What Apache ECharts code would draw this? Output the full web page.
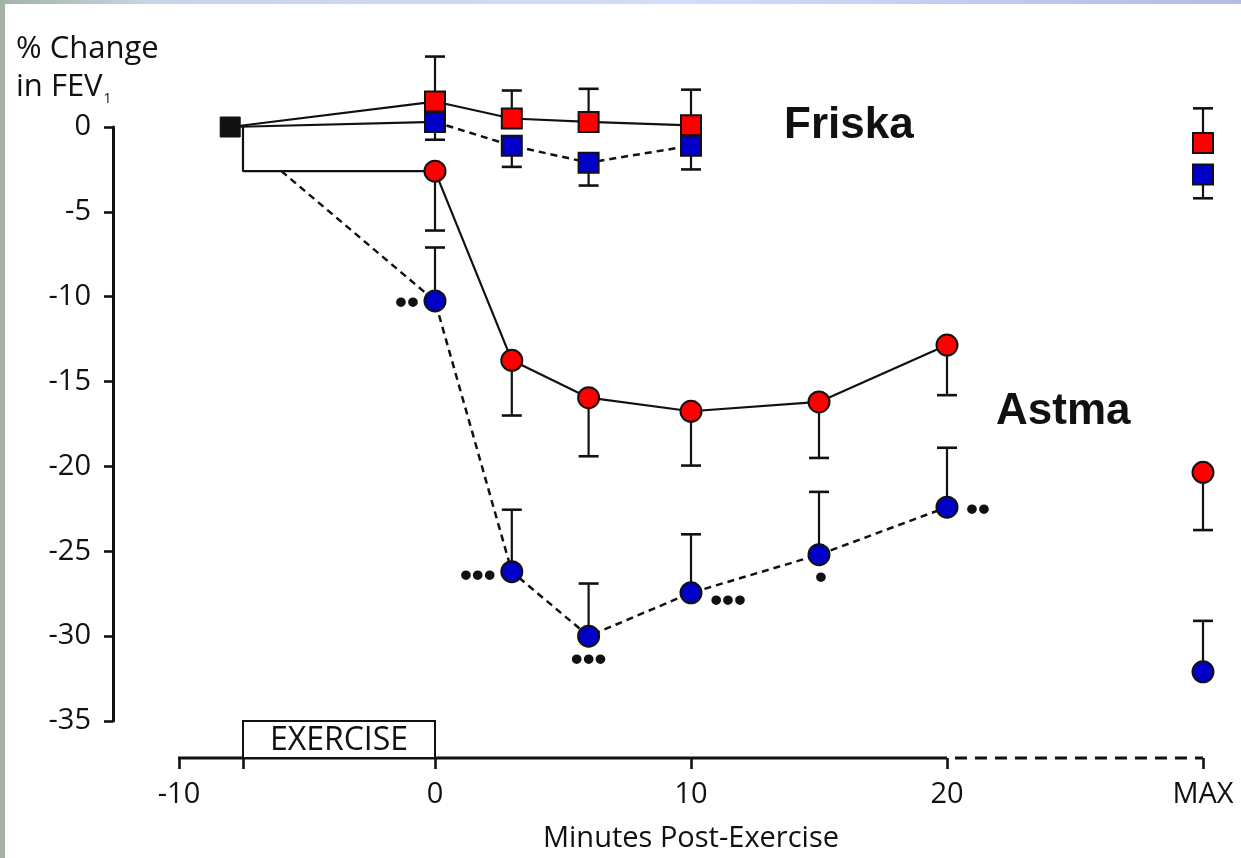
<!DOCTYPE html>
<html>
<head>
<meta charset="utf-8">
<script src="https://cdn.jsdelivr.net/npm/echarts@6/dist/echarts.min.js"></script>
<style>
  html, body { margin: 0; padding: 0; background: #ffffff; }
  #chart { width: 1241px; height: 858px; }
</style>
</head>
<body>
<div id="chart"></div>
<script>
// ---- values (% change in FEV1) ----
const minutes = [0, 3, 6, 10, 15, 20];          // minutes post-exercise (asthma)
const friskaMinutes = [0, 3, 6, 10];            // minutes post-exercise (healthy)
const MAX_POS = 30;                             // x position of the MAX column
const baselinePoint = [-8, 0];                  // pre-exercise baseline
const exerciseStart = -7.5;                     // start of the exercise period
const astmaBlueBranch = -6;                     // where the dashed asthma line leaves the baseline path
const solidAxisEnd = 20;                        // x axis is solid up to here, dashed to MAX
const xTickValues = [-10, -7.5, 0, 10, 20, 30];
const xLabelValues = [-10, 0, 10, 20, 30];

// Friska (healthy)
const friskaRed = [1.5, 0.5, 0.3, 0.1];
const friskaRedUpper = [4.15, 2.15, 2.25, 2.2];
const friskaBlue = [0.3, -1.1, -2.1, -1.1];
const friskaBlueLower = [-0.75, -2.35, -3.45, -2.5];

// Astma (asthma)
const astmaRed = [-2.6, -13.75, -15.95, -16.75, -16.2, -12.85];
const astmaRedLower = [-6.1, -17.0, -19.4, -19.95, -19.5, -15.8];
const astmaBlue = [-10.25, -26.2, -30.0, -27.45, -25.2, -22.4];
const astmaBlueUpper = [-7.1, -22.55, -26.9, -24.0, -21.5, -18.9];
const astmaSig = ['••', '•••', '•••', '•••', '•', '••'];

// MAX column
const maxFriskaRed = -0.95, maxFriskaRedUpper = 1.1;
const maxFriskaBlue = -2.8, maxFriskaBlueLower = -4.2;
const maxAstmaRed = -20.35, maxAstmaRedLower = -23.75;
const maxAstmaBlue = -32.1, maxAstmaBlueUpper = -29.1;

// ---- styling ----
const INK = '#111111';
const RED = '#ff0000';
const BLUE = '#0000c8';
const Y_MIN = -35, Y_MAX = 0;
const X_AXIS_OFFSET = 37;
const FONT = '"Open Sans", "DejaVu Sans", sans-serif';
const DASH = [7, 5];
const sigOffsets = [[-28, 3], [-34, 5], [0, 24], [37, 9], [2, 24], [31, 3]];

const chart = echarts.init(document.getElementById('chart'), null, { renderer: 'canvas' });

function errorBarItem(params, api) {
  const x = api.value(0), v = api.value(1), b = api.value(2);
  const p = api.coord([x, v]);
  const q = api.coord([x, b]);
  const half = 10;
  return {
    type: 'group',
    children: [
      { type: 'line', shape: { x1: p[0], y1: p[1], x2: q[0], y2: q[1] }, style: { stroke: INK, lineWidth: 2.2 } },
      { type: 'line', shape: { x1: q[0] - half, y1: q[1], x2: q[0] + half, y2: q[1] }, style: { stroke: INK, lineWidth: 2.6 } }
    ]
  };
}

function bars(xs, vals, bounds) {
  return xs.map((x, i) => [x, vals[i], bounds[i]]);
}

const errorBarData = []
  .concat(bars(friskaMinutes, friskaRed, friskaRedUpper))
  .concat(bars(friskaMinutes, friskaBlue, friskaBlueLower))
  .concat(bars(minutes, astmaRed, astmaRedLower))
  .concat(bars(minutes, astmaBlue, astmaBlueUpper))
  .concat([
    [MAX_POS, maxFriskaRed, maxFriskaRedUpper],
    [MAX_POS, maxFriskaBlue, maxFriskaBlueLower],
    [MAX_POS, maxAstmaRed, maxAstmaRedLower],
    [MAX_POS, maxAstmaBlue, maxAstmaBlueUpper]
  ]);

const markStyle = (c) => ({ color: c, borderColor: INK, borderWidth: 2, opacity: 1 });

const option = {
  backgroundColor: '#ffffff',
  animation: false,
  title: {
    text: '{a|% Change}\n{a|in FEV}{s|1}',
    left: 11,
    top: 25,
    textStyle: {
      fontWeight: 'normal',
      rich: {
        a: { fontSize: 31, fontWeight: 'normal', fontFamily: FONT, color: INK, lineHeight: 38 },
        s: { fontSize: 14, fontWeight: 'normal', fontFamily: FONT, color: INK, lineHeight: 38, verticalAlign: 'bottom', padding: [0, 0, 0, 1] }
      }
    }
  },
  grid: { left: 179, right: 38, top: 127, bottom: 134, containLabel: false },
  xAxis: {
    type: 'value',
    min: -10,
    max: MAX_POS,
    interval: 10,
    offset: X_AXIS_OFFSET,
    splitLine: { show: false },
    axisLine: { show: false, onZero: false },
    axisTick: { show: true, customValues: xTickValues, length: 11, lineStyle: { color: INK, width: 2.6 } },
    axisLabel: {
      customValues: xLabelValues,
      formatter: (v) => (v === MAX_POS ? 'MAX' : String(v)),
      margin: 22,
      fontSize: 29,
      fontFamily: FONT,
      color: INK
    },
    name: 'Minutes Post-Exercise',
    nameLocation: 'middle',
    nameGap: 66,
    nameTextStyle: { fontSize: 29, fontFamily: FONT, color: INK }
  },
  yAxis: {
    type: 'value',
    min: Y_MIN,
    max: Y_MAX,
    interval: 5,
    offset: 66,
    splitLine: { show: false },
    axisLine: { show: true, onZero: false, lineStyle: { color: INK, width: 3 } },
    axisTick: { show: true, length: 9, lineStyle: { color: INK, width: 2.6 } },
    axisLabel: { margin: 22, fontSize: 29, fontFamily: FONT, color: INK }
  },
  graphic: [
    { type: 'rect', left: 0, top: 0, shape: { width: 5, height: 858 }, style: { fill: '#a3b4a5' }, z: 100 },
    {
      type: 'rect', left: 0, top: 0, shape: { width: 1241, height: 4 }, z: 100,
      style: {
        fill: new echarts.graphic.LinearGradient(0, 0, 1, 0, [
          { offset: 0, color: '#a3b4a5' },
          { offset: 0.12, color: '#c9d3e6' },
          { offset: 0.55, color: '#d4dcfb' },
          { offset: 1, color: '#b3bbe7' }
        ])
      }
    },
    {
      type: 'text', left: 784, top: 104,
      style: { text: 'Friska', font: 'bold 44px "Liberation Sans", Arial, sans-serif', fill: INK }
    },
    {
      type: 'text', left: 996, top: 390,
      style: { text: 'Astma', font: 'bold 44px "Liberation Sans", Arial, sans-serif', fill: INK }
    }
  ],
  series: [
    // x axis line: solid through the measured minutes, dashed up to MAX
    {
      type: 'custom', silent: true, clip: false, z: 1,
      data: [[-10, solidAxisEnd, MAX_POS]],
      renderItem: (params, api) => {
        const a = api.coord([api.value(0), Y_MIN]);
        const b = api.coord([api.value(1), Y_MIN]);
        const c = api.coord([api.value(2), Y_MIN]);
        const y = a[1] + X_AXIS_OFFSET;
        return {
          type: 'group',
          children: [
            { type: 'line', shape: { x1: a[0] - 1, y1: y, x2: b[0], y2: y }, style: { stroke: INK, lineWidth: 2.8 } },
            { type: 'line', shape: { x1: b[0] + 8, y1: y, x2: c[0], y2: y }, style: { stroke: INK, lineWidth: 2.8, lineDash: [12, 8] } }
          ]
        };
      }
    },
    // exercise period box sitting on the x axis
    {
      type: 'custom', silent: true, clip: false, z: 1,
      data: [[exerciseStart, 0]],
      renderItem: (params, api) => {
        const a = api.coord([api.value(0), Y_MIN]);
        const b = api.coord([api.value(1), Y_MIN]);
        return {
          type: 'group',
          children: [
            { type: 'rect', shape: { x: a[0], y: a[1], width: b[0] - a[0], height: X_AXIS_OFFSET }, style: { fill: '#ffffff', stroke: INK, lineWidth: 2 } },
            {
              type: 'text',
              style: {
                text: 'EXERCISE', x: (a[0] + b[0]) / 2, y: a[1] + X_AXIS_OFFSET / 2 + 1,
                align: 'center', verticalAlign: 'middle', fontSize: 32, fontFamily: FONT, fill: INK
              }
            }
          ]
        };
      }
    },
    // error bars
    {
      type: 'custom', silent: true, clip: false, z: 2,
      data: errorBarData,
      renderItem: errorBarItem
    },
    // Friska, red: baseline -> squares (solid)
    {
      type: 'line', clip: false, z: 3,
      symbol: 'rect', symbolSize: 20,
      lineStyle: { color: INK, width: 2.2 },
      itemStyle: markStyle(RED),
      data: [{ value: baselinePoint, symbol: 'none' }].concat(friskaMinutes.map((m, i) => [m, friskaRed[i]]))
    },
    // Friska, blue: solid link from baseline
    {
      type: 'line', clip: false, z: 3, symbol: 'none',
      lineStyle: { color: INK, width: 2.2 },
      data: [baselinePoint, [friskaMinutes[0], friskaBlue[0]]]
    },
    // Friska, blue squares (dashed)
    {
      type: 'line', clip: false, z: 4,
      symbol: 'rect', symbolSize: 20,
      lineStyle: { color: INK, width: 2.5, type: DASH },
      itemStyle: markStyle(BLUE),
      data: friskaMinutes.map((m, i) => [m, friskaBlue[i]])
    },
    // Astma, red circles: drop from baseline at exercise start, then solid
    {
      type: 'line', clip: false, z: 3,
      symbol: 'circle', symbolSize: 21,
      lineStyle: { color: INK, width: 2.2 },
      itemStyle: markStyle(RED),
      data: [
        { value: [exerciseStart, baselinePoint[1]], symbol: 'none' },
        { value: [exerciseStart, astmaRed[0]], symbol: 'none' }
      ].concat(minutes.map((m, i) => [m, astmaRed[i]]))
    },
    // Astma, blue circles (dashed) with significance marks
    {
      type: 'line', clip: false, z: 4,
      symbol: 'circle', symbolSize: 21,
      lineStyle: { color: INK, width: 2.5, type: DASH },
      itemStyle: markStyle(BLUE),
      data: [{ value: [astmaBlueBranch, astmaRed[0]], symbol: 'none' }].concat(
        minutes.map((m, i) => ({
          value: [m, astmaBlue[i]],
          label: {
            show: true, position: 'inside', formatter: astmaSig[i], offset: sigOffsets[i],
            fontSize: 34, fontWeight: 'bold', fontFamily: '"Liberation Sans", Arial, sans-serif', color: INK
          }
        }))
      )
    },
    // baseline marker
    {
      type: 'scatter', clip: false, z: 5,
      symbol: 'rect', symbolSize: 20,
      itemStyle: { color: INK, borderColor: INK, borderWidth: 1, opacity: 1 },
      data: [baselinePoint]
    },
    // MAX column
    {
      type: 'scatter', clip: false, z: 5, symbol: 'rect', symbolSize: 20,
      itemStyle: markStyle(RED), data: [[MAX_POS, maxFriskaRed]]
    },
    {
      type: 'scatter', clip: false, z: 5, symbol: 'rect', symbolSize: 20,
      itemStyle: markStyle(BLUE), data: [[MAX_POS, maxFriskaBlue]]
    },
    {
      type: 'scatter', clip: false, z: 5, symbol: 'circle', symbolSize: 21,
      itemStyle: markStyle(RED), data: [[MAX_POS, maxAstmaRed]]
    },
    {
      type: 'scatter', clip: false, z: 5, symbol: 'circle', symbolSize: 21,
      itemStyle: markStyle(BLUE), data: [[MAX_POS, maxAstmaBlue]]
    }
  ]
};

chart.setOption(option);
</script>
</body>
</html>
